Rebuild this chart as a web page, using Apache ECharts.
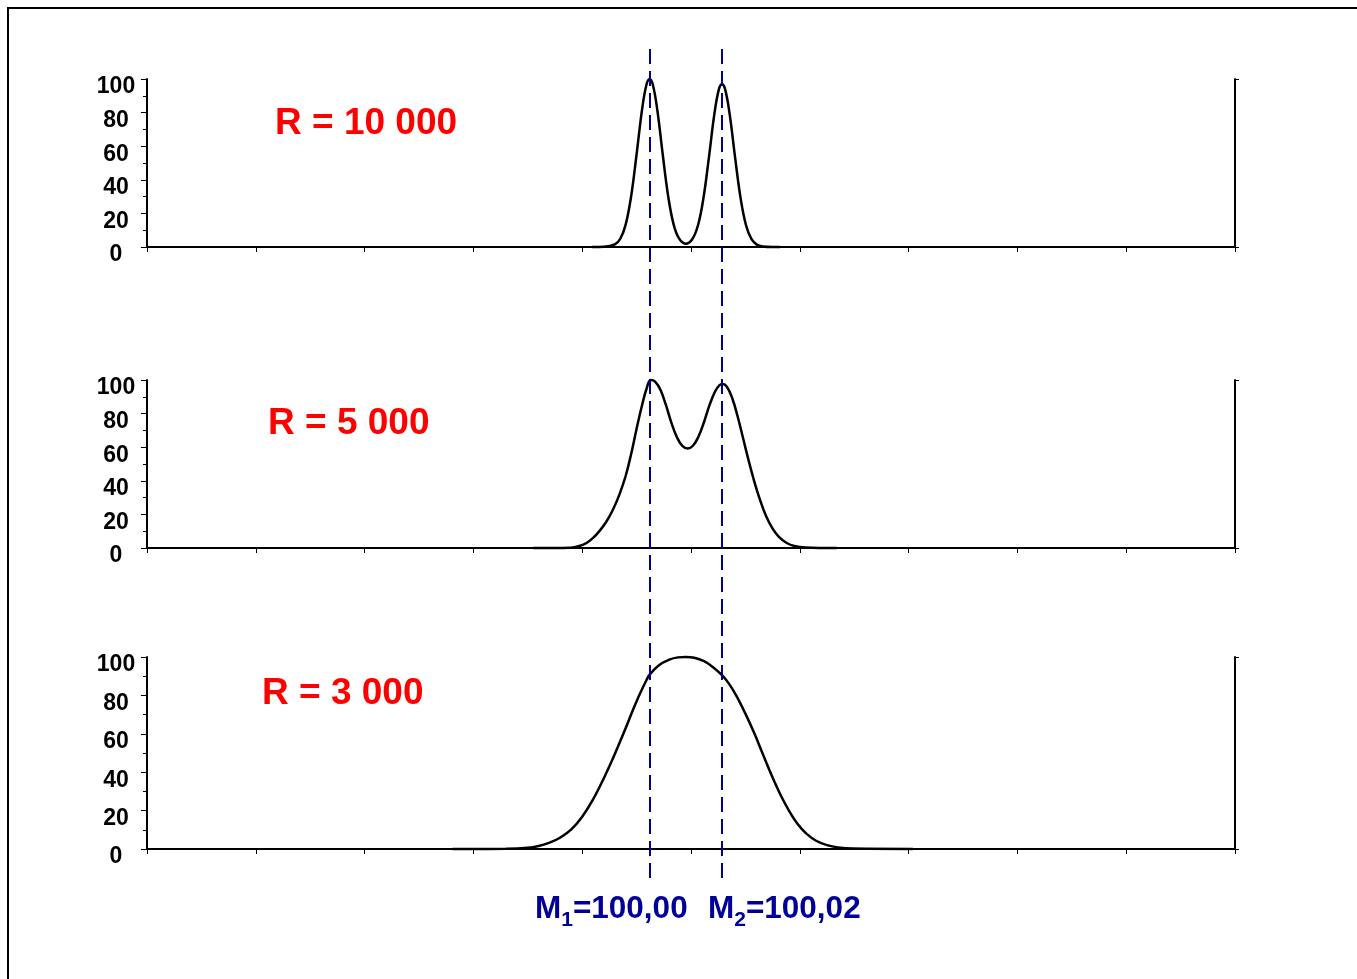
<!DOCTYPE html>
<html>
<head>
<meta charset="utf-8">
<script src="https://cdn.jsdelivr.net/npm/echarts@6/dist/echarts.min.js"></script>
<style>
html,body{margin:0;padding:0;background:#fff}
#chart{width:1357px;height:979px}
</style>
</head>
<body>
<div id="chart"></div>
<script>
// x scale has no labels: 0..100, ticks every 10
var peakX = [46.2, 52.85]            // M1, M2
var massSub = ['1', '2']
var massText = ['=100,00', '=100,02']
var titles = ['R = 10 000', 'R = 5 000', 'R = 3 000']

// R = 10 000
var r10000X = [40.9, 42, 43, 43.5, 44, 44.5, 45, 45.5, 45.9, 46.2, 46.5, 46.9, 47.4, 47.9, 48.4, 48.9, 49.5, 50.1, 50.65, 51.15, 51.65, 52.15, 52.55, 52.85, 53.15, 53.55, 54.05, 54.55, 55.05, 55.55, 56.05, 56.6, 57.5, 58.2]
var r10000Y = [0, 0.1, 1.5, 4.9, 13.5, 30.3, 55.2, 81.7, 96.4, 100, 96.4, 81.7, 55.2, 30.3, 13.5, 5.1, 2.0, 4.5, 13.1, 29.4, 53.5, 79.2, 93.5, 97, 93.5, 79.2, 53.5, 29.4, 13.1, 4.8, 1.4, 0.3, 0, 0]

// R = 5 000
var r5000X = [35.5, 38.9, 39.8, 40.4, 41.0, 41.6, 42.2, 42.8, 43.4, 44.0, 44.5, 45.0, 45.5, 45.9, 46.3, 46.7, 47.2, 47.7, 48.2, 48.7, 49.2, 49.7, 50.2, 50.7, 51.2, 51.7, 52.2, 52.6, 52.9, 53.3, 53.8, 54.3, 54.8, 55.3, 55.8, 56.3, 56.9, 57.5, 58.1, 58.8, 59.5, 60.5, 63.4]
var r5000Y = [0, 0.2, 1.3, 3.0, 6.0, 10.2, 15.5, 22.5, 31.5, 43, 56, 71, 85, 94.5, 100, 99, 94, 85, 74.5, 66, 60.8, 59.2, 61, 66.5, 75, 85, 93, 96.8, 97.6, 96, 89, 78, 65, 52, 40, 29.5, 19, 11.5, 6.5, 3.0, 1.2, 0.3, 0]

// R = 3 000
var r3000X = [28.1, 33.0, 35.0, 36.0, 37.0, 38.0, 39.0, 40.0, 41.0, 42.0, 43.0, 44.0, 45.0, 46.0, 46.2, 47.0, 48.0, 48.8, 49.5, 50.3, 51.2, 52.0, 52.85, 53.5, 54.2, 55.0, 55.8, 56.6, 57.4, 58.2, 59.0, 59.8, 60.6, 61.5, 62.5, 63.5, 64.9, 70.4]
var r3000Y = [0, 0.1, 0.6, 1.6, 3.3, 6.0, 10.2, 16.8, 25.8, 37, 49.5, 63, 77, 89, 90.8, 95.5, 98.6, 99.8, 100, 99.6, 97.8, 94.8, 90.5, 86, 79.5, 70.5, 60.5, 49.5, 38.5, 28.5, 20, 13, 8, 4.3, 2.0, 0.8, 0.2, 0]

var font = '"Liberation Sans", Arial, sans-serif'
var blue = '#000099'

function pairs(xs, ys){
  return xs.map(function(x, i){ return [x, ys[i]] })
}

var curves = [pairs(r10000X, r10000Y), pairs(r5000X, r5000Y), pairs(r3000X, r3000Y)]
var panels = [
  {top: 79, height: 168, titleX: 275, titleY: 124},
  {top: 380, height: 168, titleX: 268, titleY: 424},
  {top: 657, height: 192, titleX: 262, titleY: 694}
]

var grid = [], xAxis = [], yAxis = [], series = [], graphic = []

panels.forEach(function(p, i){
  grid.push({left: 147, width: 1088, top: p.top, height: p.height})
  xAxis.push({
    type: 'value', gridIndex: i, min: 0, max: 100, interval: 10,
    axisLine: {lineStyle: {color: '#000', width: 2}},
    axisTick: {length: 5, lineStyle: {color: '#000', width: 1}},
    axisLabel: {show: false},
    splitLine: {show: false}
  })
  yAxis.push({
    type: 'value', gridIndex: i, min: 0, max: 100, interval: 20,
    axisLine: {show: true, lineStyle: {color: '#000', width: 2}},
    axisTick: {show: true, length: 6, lineStyle: {color: '#000', width: 1}},
    minorTick: {show: true, splitNumber: 2, length: 4, lineStyle: {color: '#000', width: 1}},
    axisLabel: {
      color: '#000', fontFamily: font, fontWeight: 'bold', fontSize: 23,
      align: 'center', margin: 31, verticalAlign: 'top', lineHeight: 16
    },
    splitLine: {show: false}
  })
  yAxis.push({
    type: 'value', gridIndex: i, position: 'right', min: 0, max: 100, interval: 100,
    axisLine: {show: true, lineStyle: {color: '#000', width: 2}},
    axisTick: {show: true, length: 4, lineStyle: {color: '#000', width: 1}},
    axisLabel: {show: false},
    splitLine: {show: false}
  })
  series.push({
    type: 'line', xAxisIndex: i, yAxisIndex: i * 2,
    data: curves[i], smooth: 0.4, symbol: 'none', clip: false,
    lineStyle: {color: '#000', width: 2.5}
  })
  graphic.push({
    type: 'text', x: p.titleX, y: p.titleY, z: 10,
    style: {text: titles[i], fill: '#ff0000', font: 'bold 37px ' + font, verticalAlign: 'middle'}
  })
})

// overlay grid for the dashed mass lines
grid.push({left: 147, width: 1088, top: 47, height: 831})
xAxis.push({type: 'value', gridIndex: 3, min: 0, max: 100, show: false})
yAxis.push({type: 'value', gridIndex: 3, min: 0, max: 1, show: false})
series.push({
  type: 'line', xAxisIndex: 3, yAxisIndex: 6, data: [], z: 5,
  markLine: {
    silent: true, symbol: 'none', label: {show: false},
    lineStyle: {color: blue, type: [15, 7], width: 2},
    data: peakX.map(function(x){ return {xAxis: x} })
  }
})

var labelX = [535, 708]
massText.forEach(function(t, i){
  graphic.push({
    type: 'text', x: labelX[i], y: 912, z: 10,
    style: {
      text: '{m|M}{s|' + massSub[i] + '}{m|' + t + '}',
      verticalAlign: 'middle',
      rich: {
        m: {fill: blue, fontFamily: font, fontWeight: 'bold', fontSize: 31.5, padding: [0, 0, 6, 0]},
        s: {fill: blue, fontFamily: font, fontWeight: 'bold', fontSize: 21, verticalAlign: 'bottom'}
      }
    }
  })
})

graphic.push({
  type: 'rect', z: 0, silent: true,
  shape: {x: 8, y: 8, width: 1420, height: 1050},
  style: {fill: 'none', stroke: '#000', lineWidth: 2}
})

var chart = echarts.init(document.getElementById('chart'))
chart.setOption({
  backgroundColor: '#fff',
  animation: false,
  grid: grid,
  xAxis: xAxis,
  yAxis: yAxis,
  series: series,
  graphic: graphic
})
</script>
</body>
</html>
